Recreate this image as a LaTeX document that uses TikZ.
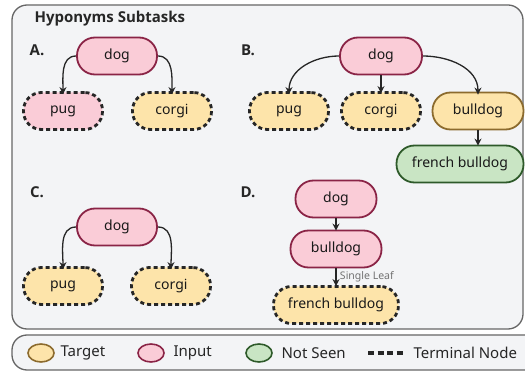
\documentclass[tikz,border=0pt]{standalone}
\usepackage{fontspec}
\setmainfont{Noto Sans}
\newfontfamily\tagfont{Open Sans}
\usetikzlibrary{arrows.meta,shapes.geometric}

\definecolor{panelfill}{HTML}{F3F4F6}
\definecolor{panelline}{HTML}{666666}
\definecolor{inputfill}{HTML}{FACCD7}
\definecolor{inputline}{HTML}{8A2446}
\definecolor{targetfill}{HTML}{FDE4AA}
\definecolor{targetline}{HTML}{8C6B2E}
\definecolor{unseenfill}{HTML}{C9E5C4}
\definecolor{unseenline}{HTML}{2E5A2A}

\tikzset{
    box/.style={rectangle, rounded corners=18pt, minimum height=37pt, inner sep=0pt,
        font=\fontsize{14}{16}\selectfont, text=black!90},
    inputnode/.style={box, fill=inputfill, draw=inputline, line width=1.8pt},
    targetnode/.style={box, fill=targetfill, draw=targetline, line width=1.8pt},
    unseennode/.style={box, fill=unseenfill, draw=unseenline, line width=1.8pt},
    terminal/.style={draw=black!85, line width=2.8pt, dash pattern=on 4pt off 3pt},
    arr/.style={draw=black!85, line width=1.3pt, -{Stealth[length=7pt,width=7pt]}},
    tag/.style={font=\tagfont\fontsize{15}{17}\selectfont\bfseries, text=black!85},
    legendmark/.style={ellipse, minimum width=26pt, minimum height=18pt, line width=1.6pt},
    legendtext/.style={font=\fontsize{15}{17}\selectfont, text=black!85, anchor=west}
}

\begin{document}
\begin{tikzpicture}[x=1pt, y=-1pt]
    \useasboundingbox (0,0) rectangle (525,371);

    % panels
    \draw[fill=panelfill, draw=panelline, line width=1.3pt, rounded corners=15pt]
        (12,5) rectangle (523,329);
    \draw[fill=panelfill, draw=panelline, line width=1.3pt, rounded corners=15pt]
        (12,335) rectangle (540,370);

    \node[tag, anchor=west] (title) at (31,19) {Hyponyms Subtasks};

    % A.
    \node[tag] (tagA) at (37,50) {A.};
    \node[inputnode, minimum width=80pt] (aDog) at (117,56) {dog};
    \node[inputnode, terminal, minimum width=79pt] (aPug) at (63,111) {pug};
    \node[targetnode, terminal, minimum width=79pt] (aCorgi) at (172,111) {corgi};
    \draw[arr] (aDog.west) to[out=180, in=90] ([yshift=-3pt]aPug.north);
    \draw[arr] (aDog.east) to[out=0, in=90] ([yshift=-3pt]aCorgi.north);

    % B.
    \node[tag] (tagB) at (248,50) {B.};
    \node[inputnode, minimum width=82pt] (bDog) at (381,56) {dog};
    \node[targetnode, terminal, minimum width=79pt] (bPug) at (289,111) {pug};
    \node[targetnode, terminal, minimum width=79pt] (bCorgi) at (381,111) {corgi};
    \node[targetnode, minimum width=91pt] (bBull) at (478,111) {bulldog};
    \node[unseennode, minimum width=127pt] (bFrench) at (460,164) {french bulldog};
    \draw[arr] (bDog.west) to[out=180, in=90] ([yshift=-3pt]bPug.north);
    \draw[arr] (bDog.south) -- ([yshift=-2pt]bCorgi.north);
    \draw[arr] (bDog.east) to[out=0, in=90] ([yshift=-3pt]bBull.north);
    \draw[arr] (bBull.south) -- ([yshift=-1pt]bBull.south |- bFrench.north);

    % C.
    \node[tag] (tagC) at (37,192) {C.};
    \node[inputnode, minimum width=80pt] (cDog) at (117,227) {dog};
    \node[targetnode, terminal, minimum width=79pt] (cPug) at (63,286) {pug};
    \node[targetnode, terminal, minimum width=79pt] (cCorgi) at (171,286) {corgi};
    \draw[arr] (cDog.west) to[out=180, in=90] ([yshift=-3pt]cPug.north);
    \draw[arr] (cDog.east) to[out=0, in=90] ([yshift=-3pt]cCorgi.north);

    % D.
    \node[tag] (tagD) at (248,192) {D.};
    \node[inputnode, minimum width=81pt] (dDog) at (336,199) {dog};
    \node[inputnode, minimum width=91pt] (dBull) at (336,249) {bulldog};
    \node[targetnode, terminal, minimum width=125pt] (dFrench) at (336,305) {french bulldog};
    \draw[arr] (dDog.south) -- ([yshift=-1pt]dBull.north);
    \draw[arr] (dBull.south) -- ([yshift=-1pt]dFrench.north)
        node[pos=0.45, right=0pt, font=\fontsize{10.5}{12}\selectfont, text=black!55] {Single Leaf};

    % legend
    \node[legendmark, fill=targetfill, draw=targetline] (lgTarget) at (41,353) {};
    \node[legendtext] (lgTargetText) at (57,353) {Target};
    \node[legendmark, fill=inputfill, draw=inputline] (lgInput) at (151,353) {};
    \node[legendtext] (lgInputText) at (170,353) {Input};
    \node[legendmark, fill=unseenfill, draw=unseenline] (lgUnseen) at (259,353) {};
    \node[legendtext] (lgUnseenText) at (278,353) {Not Seen};
    \coordinate (lgDashA) at (368,353);
    \coordinate (lgDashB) at (403,353);
    \draw[draw=black!85, line width=4.5pt, dash pattern=on 6pt off 3.5pt] (lgDashA) -- (lgDashB);
    \node[legendtext] (lgTerminalText) at (410,353) {Terminal Node};
\end{tikzpicture}
\end{document}
